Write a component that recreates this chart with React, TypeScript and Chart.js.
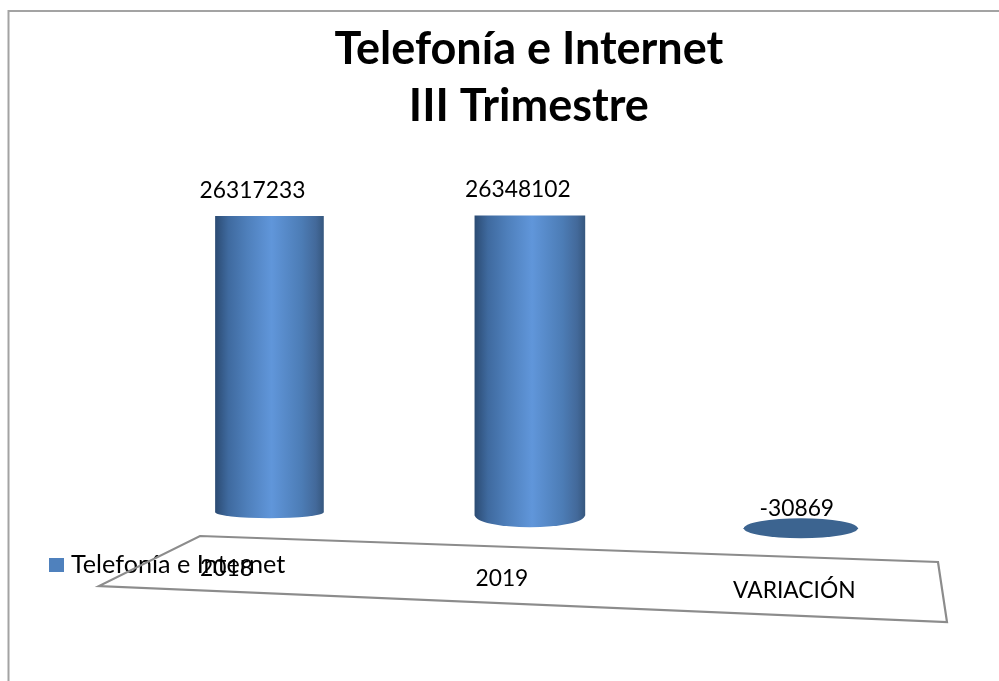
import React, { useEffect, useRef } from "react";
import { Chart, registerables } from "chart.js";

Chart.register(...registerables);

const categories = ["2018", "2019", "VARIACIÓN"];
const values = [26317233, 26348102, -30869];
const seriesName = "Telefonía e Internet";
const titleLines = ["Telefonía e Internet", "III Trimestre"];

const FONT = "Lato";
const INK = "#000000";
const SERIES_COLOR = "#4f81bd";

// 3D look of the original: per-category nudges applied to the library's bar elements
const shiftX = [2, -3, 2.5];
const barWidths = [108, 110, 114];
const baseLift = [16, 13, 0];
const capRy = [6, 12, 10];
const labelShift = [{ x: -17, y: -26 }, { x: -12, y: -26 }, { x: -4, y: -10 }];
const tickShift = [{ x: -41, y: 56 }, { x: -31, y: 66 }, { x: -4, y: 78 }];
const floorOutline = [[200, 536], [938, 562], [947, 622], [99, 586]];

function cylinderFill(c: CanvasRenderingContext2D, left: number, right: number) {
  const g = c.createLinearGradient(left, 0, right, 0);
  g.addColorStop(0, "#2c4c74");
  g.addColorStop(0.12, "#3f6a9f");
  g.addColorStop(0.3, "#4f80bc");
  g.addColorStop(0.52, "#6096da");
  g.addColorStop(0.8, "#4c7cb5");
  g.addColorStop(0.93, "#43699a");
  g.addColorStop(1, "#36587f");
  return g;
}

function legendSquare() {
  const s = document.createElement("canvas");
  s.width = 15;
  s.height = 14;
  const c = s.getContext("2d") as CanvasRenderingContext2D;
  c.fillStyle = SERIES_COLOR;
  c.fillRect(0, 0, 15, 14);
  return s;
}

const cylinderPlugin = {
  id: "cylinder",
  afterDatasetsUpdate(chart: any) {
    const bars = chart.getDatasetMeta(0).data;
    bars.forEach((bar: any, i: number) => {
      bar.x += shiftX[i];
      bar.width = barWidths[i];
      bar.base -= baseLift[i];
    });
  },
  afterLayout(chart: any) {
    const lg = chart.legend;
    const w = lg.width;
    const h = lg.height;
    lg.left = 44.6;
    lg.right = 44.6 + w;
    lg.top = 542;
    lg.bottom = 542 + h;
    chart.titleBlock.left -= 4;
    chart.titleBlock.right -= 4;
  },
  beforeDatasetsDraw(chart: any) {
    const c = chart.ctx;
    c.save();
    c.strokeStyle = "#a3a3a3";
    c.lineWidth = 2;
    c.strokeRect(8.5, 11, 1100, 1000);
    c.strokeStyle = "#8c8c8c";
    c.lineWidth = 2.2;
    c.beginPath();
    floorOutline.forEach(([x, y], i) => (i ? c.lineTo(x, y) : c.moveTo(x, y)));
    c.closePath();
    c.stroke();
    c.restore();
  },
  afterDatasetsDraw(chart: any) {
    const c = chart.ctx;
    const bars = chart.getDatasetMeta(0).data;
    const xScale = chart.scales.x;
    c.save();
    bars.forEach((bar: any, i: number) => {
      const half = barWidths[i] / 2;
      c.beginPath();
      c.ellipse(bar.x, bar.base, half, capRy[i], 0, 0, Math.PI * 2);
      c.fillStyle = values[i] < 0 ? "#3c6490" : cylinderFill(c, bar.x - half, bar.x + half);
      c.fill();
    });
    c.fillStyle = INK;
    c.font = `22.8px ${FONT}`;
    c.textAlign = "center";
    c.textBaseline = "middle";
    bars.forEach((bar: any, i: number) => {
      const top = values[i] < 0 ? bar.base - capRy[i] : bar.y;
      c.fillText(String(values[i]), bar.x + labelShift[i].x, top + labelShift[i].y);
    });
    categories.forEach((label, i) => {
      const x = xScale.getPixelForValue(i) + tickShift[i].x;
      const y = chart.scales.y.getPixelForValue(0) + tickShift[i].y - 16;
      c.fillText(label, x, y);
    });
    c.restore();
  },
};

export default function App() {
  const ref = useRef<HTMLCanvasElement>(null);
  useEffect(() => {
    const square = legendSquare();
    const chart = new Chart(ref.current as HTMLCanvasElement, {
      type: "bar",
      data: {
        labels: categories,
        datasets: [
          {
            label: seriesName,
            data: values,
            barThickness: 110,
            backgroundColor: (ctx: any) => {
              const i = ctx.dataIndex;
              if (i === undefined || !ctx.chart.scales.x) return SERIES_COLOR;
              if (values[i] < 0) return "#3c6490";
              const x = ctx.chart.scales.x.getPixelForValue(i) + shiftX[i];
              return cylinderFill(ctx.chart.ctx, x - barWidths[i] / 2, x + barWidths[i] / 2);
            },
            borderWidth: 0,
          },
        ],
      },
      options: {
        responsive: false,
        animation: false,
        layout: { padding: { left: 134.75, right: 68, top: 0, bottom: 129 } },
        scales: {
          x: { display: false, grid: { display: false } },
          y: { display: false, min: -2000000, max: 28000000, grid: { display: false } },
        },
        plugins: {
          tooltip: { enabled: false },
          title: {
            display: true,
            text: titleLines,
            color: INK,
            font: { family: FONT, size: 45, weight: "bold", lineHeight: 1.27 },
            padding: { top: 21, bottom: 61 },
          },
          legend: {
            display: true,
            position: "chartArea",
            align: "start",
            labels: {
              color: INK,
              font: { family: FONT, size: 25.2 },
              usePointStyle: true,
              pointStyleWidth: 3.8,
              boxHeight: 14,
              padding: 10,
              generateLabels: () => [
                {
                  text: seriesName,
                  fillStyle: SERIES_COLOR,
                  strokeStyle: SERIES_COLOR,
                  lineWidth: 0,
                  hidden: false,
                  datasetIndex: 0,
                  pointStyle: square,
                },
              ],
            },
          },
        },
      } as any,
      plugins: [cylinderPlugin],
    });
    return () => chart.destroy();
  }, []);
  return (
    <div style={{ position: "fixed", left: 0, top: 0, width: 999, height: 681, overflow: "hidden", background: "#fff" }}>
      <canvas ref={ref} width={999} height={681} style={{ display: "block" }} />
    </div>
  );
}
